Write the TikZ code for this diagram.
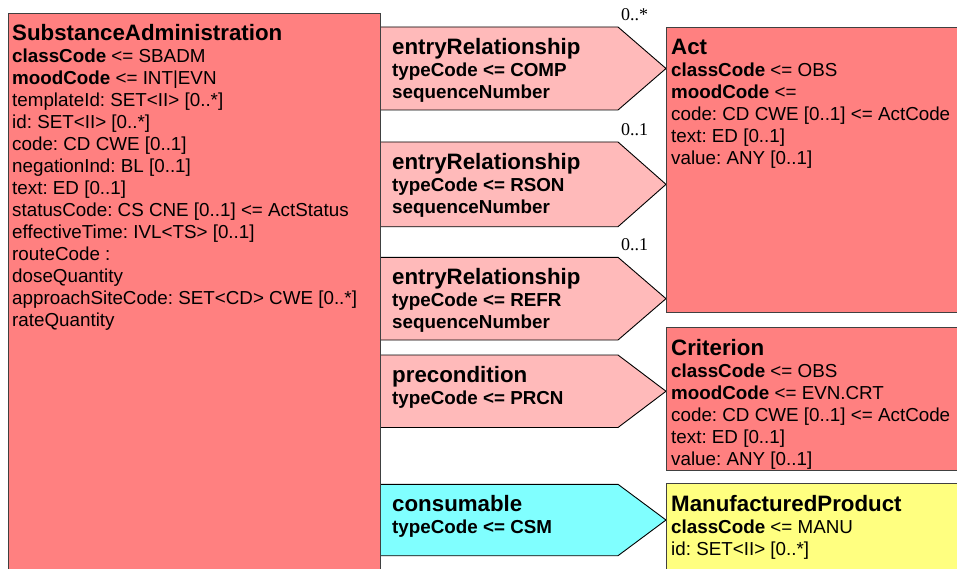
\documentclass[tikz,border=0pt]{standalone}
\usepackage{fontspec}
\usepackage{tikz}
\usepackage{xcolor}
\setmainfont{Liberation Sans}
\newfontfamily\multfont{Liberation Serif}
\definecolor{actred}{RGB}{255,128,128}
\definecolor{relpink}{RGB}{255,186,186}
\definecolor{partcyan}{RGB}{128,255,255}
\definecolor{roleyellow}{RGB}{255,255,128}
\newcommand*{\clsname}[1]{{\fontsize{22.3}{22}\selectfont\bfseries\rule{0pt}{17pt}#1}}
\frenchspacing

\begin{document}
\begin{tikzpicture}[x=1pt,y=-1pt,
  classbox/.style={draw=black!75,line width=0.9pt},
  relshape/.style={draw=black,line width=0.9pt},
  boxtext/.style={anchor=north west,inner sep=0pt,align=left,font=\fontsize{18.8}{22}\selectfont},
  reltext/.style={boxtext,font=\fontsize{18.8}{22}\selectfont\bfseries},
  mult/.style={anchor=base west,inner sep=0pt,font=\multfont\fontsize{18}{18}\selectfont}]

\useasboundingbox (0,0) rectangle (957,569);
\clip (0,0) rectangle (957,569);

% relationship arrows
\foreach \ya/\yb/\col in {27/110/relpink,142/226.7/relpink,257.3/340/relpink,355/427.5/relpink,484.3/555.7/partcyan}
   \draw[relshape,fill=\col] (380,\ya) -- (618,\ya) -- (666,{(\ya+\yb)/2}) -- (618,\yb) -- (380,\yb) -- cycle;

% classes
\draw[classbox,fill=actred] (8,13.3) rectangle (380,600);
\draw[classbox,fill=actred] (666,27) rectangle (990,312);
\draw[classbox,fill=actred] (666,327) rectangle (990,470);
\draw[classbox,fill=roleyellow] (666,483) rectangle (990,600);

% text tops = first baseline - 17
\node[boxtext] (sbadm) at (12,23) {\clsname{SubstanceAdministration}\\
\textbf{classCode} <= SBADM\\
\textbf{moodCode} <= INT|EVN\\
templateId: SET<II> [0..*]\\
id: SET<II> [0..*]\\
code: CD CWE [0..1]\\
negationInd: BL [0..1]\\
text: ED [0..1]\\
statusCode: CS CNE [0..1] <= ActStatus\\
effectiveTime: IVL<TS> [0..1]\\
routeCode :\\
doseQuantity\\
approachSiteCode: SET<CD> CWE [0..*]\\
rateQuantity};

\node[reltext] (entryComp) at (392,37) {\clsname{entryRelationship}\\
typeCode <= COMP\\
sequenceNumber};
\node[reltext] (entryRson) at (392,152) {\clsname{entryRelationship}\\
typeCode <= RSON\\
sequenceNumber};
\node[reltext] (entryRefr) at (392,267) {\clsname{entryRelationship}\\
typeCode <= REFR\\
sequenceNumber};
\node[reltext] (precond) at (392,365) {\clsname{precondition}\\
typeCode <= PRCN};
\node[reltext] (consumable) at (392,494) {\clsname{consumable}\\
typeCode <= CSM};

\node[mult] (multComp) at (621,20.7) {0..*};
\node[mult] (multRson) at (621,135.7) {0..1};
\node[mult] (multRefr) at (621,250.7) {0..1};

\node[boxtext] (act) at (671,37) {\clsname{Act}\\
\textbf{classCode} <= OBS\\
\textbf{moodCode} <=\\
code: CD CWE [0..1] <= ActCode\\
text: ED [0..1]\\
value: ANY [0..1]};
\node[boxtext] (criterion) at (671,338) {\clsname{Criterion}\\
\textbf{classCode} <= OBS\\
\textbf{moodCode} <= EVN.CRT\\
code: CD CWE [0..1] <= ActCode\\
text: ED [0..1]\\
value: ANY [0..1]};
\node[boxtext] (manuProduct) at (671,494) {\clsname{ManufacturedProduct}\\
\textbf{classCode} <= MANU\\
id: SET<II> [0..*]};

\end{tikzpicture}
\end{document}
